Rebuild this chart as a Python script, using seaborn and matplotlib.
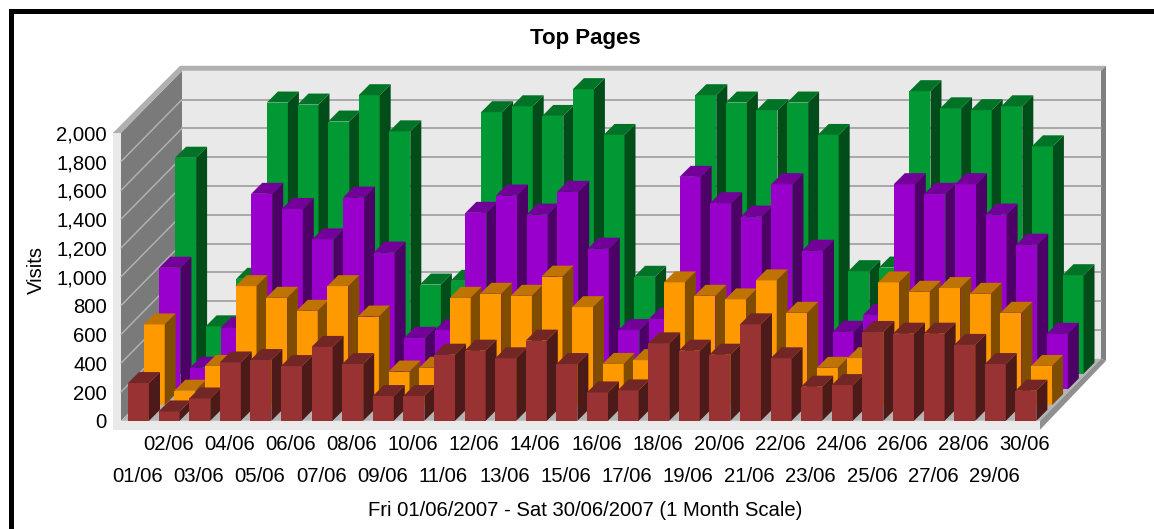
import matplotlib
matplotlib.use("Agg")
from matplotlib.patches import Polygon, Rectangle
from matplotlib.transforms import ScaledTranslation
import matplotlib.pyplot as plt
import numpy as np
import seaborn as sns

sns.set_theme(style="white")
plt.rcParams['font.family'] = ['Liberation Sans', 'DejaVu Sans']

days = np.arange(1, 31)
day_labels = [f"{d:02d}/06" for d in days]
y_ticks = [0, 200, 400, 600, 800, 1000, 1200, 1400, 1600, 1800, 2000]

# front row to back row
brown = [262, 65, 155, 405, 422, 380, 513, 394, 172, 172,
         459, 487, 434, 557, 394, 197, 211, 538, 487, 459,
         670, 434, 237, 248, 617, 605, 605, 527, 394, 209]
orange = [560, 100, 272, 826, 745, 655, 826, 615, 233, 259,
          745, 773, 759, 892, 680, 286, 312, 852, 759, 734,
          866, 641, 259, 326, 852, 787, 813, 773, 641, 272]
purple = [845, 150, 426, 1358, 1253, 1042, 1332, 950, 358, 412,
          1226, 1346, 1214, 1372, 977, 412, 490, 1476, 1293, 1200,
          1425, 963, 400, 518, 1425, 1358, 1425, 1214, 1005, 386]
green = [1500, 329, 659, 1883, 1869, 1751, 1934, 1683, 619, 645,
         1816, 1857, 1790, 1976, 1658, 673, 600, 1934, 1883, 1830,
         1883, 1658, 712, 737, 1962, 1843, 1830, 1857, 1579, 684]

rows = [(green, "#009933", 3), (purple, "#9900CC", 2), (orange, "#FF9900", 1), (brown, "#993333", 0)]

W, H = 1154, 529
PX_X = 1 / 30.6    # days per pixel
PX_Y = 1 / 0.144   # visits per pixel
ROW_X = 15.7 * PX_X
ROW_Y = 15.7 * PX_Y
BOX_X = 11 * PX_X
BOX_Y = 11 * PX_Y
DEPTH_X = 61 * PX_X
DEPTH_Y = 62 * PX_Y
X0 = 1 - 17.5 * PX_X
X1 = 30 + 14.1 * PX_X
YMAX = 2000


def shade(color, k):
    r, g, b = matplotlib.colors.to_rgb(color)
    return (r * k, g * k, b * k)


def wall(ax, pts, color, z=1):
    ax.add_patch(Polygon(pts, closed=True, facecolor=color, edgecolor="none", zorder=z, clip_on=False))


fig = plt.figure(figsize=(W / 100, H / 100), dpi=100)
ax = fig.add_axes([121 / W, (H - 420.8) / H, 919 / W, 288 / H])

# back wall, left wall, floor and their edges
band = 5
wall(ax, [(X0 + DEPTH_X, DEPTH_Y), (X1 + DEPTH_X, DEPTH_Y), (X1 + DEPTH_X, YMAX + DEPTH_Y), (X0 + DEPTH_X, YMAX + DEPTH_Y)], "#E9E9E9")
wall(ax, [(X0, 0), (X0 + DEPTH_X, DEPTH_Y), (X0 + DEPTH_X, YMAX + DEPTH_Y), (X0, YMAX)], "#7A7A7A")
wall(ax, [(X0, 0), (X1, 0), (X1 + DEPTH_X, DEPTH_Y), (X0 + DEPTH_X, DEPTH_Y)], "#B4B4B4")
wall(ax, [(X0 - 8 * PX_X, YMAX), (X0, YMAX), (X0 + DEPTH_X, YMAX + DEPTH_Y), (X1 + DEPTH_X, YMAX + DEPTH_Y),
          (X1 + DEPTH_X + band * PX_X, YMAX + DEPTH_Y + band * PX_Y), (X0 + DEPTH_X - 2 * PX_X, YMAX + DEPTH_Y + band * PX_Y)], "#B0B0B0", 2)
wall(ax, [(X1 + DEPTH_X, DEPTH_Y), (X1 + DEPTH_X + band * PX_X, DEPTH_Y - 2 * PX_Y),
          (X1 + DEPTH_X + band * PX_X, YMAX + DEPTH_Y + band * PX_Y), (X1 + DEPTH_X, YMAX + DEPTH_Y)], "#808080", 2)
wall(ax, [(X1, 0), (X1, -9 * PX_Y), (X1 + DEPTH_X + band * PX_X, DEPTH_Y - 2 * PX_Y), (X1 + DEPTH_X, DEPTH_Y)], "#909090", 2)
wall(ax, [(X0 - 8 * PX_X, YMAX), (X0, YMAX), (X0, 0), (X1, 0), (X1, -9 * PX_Y), (X0 - 8 * PX_X, -9 * PX_Y)], "#E9E9E9", 2)

for t in y_ticks[1:-1]:
    ax.plot([X0 + DEPTH_X, X1 + DEPTH_X], [t + DEPTH_Y, t + DEPTH_Y], color="#A3A3A3", lw=1.3, zorder=3, clip_on=False)
    ax.plot([X0, X0 + DEPTH_X], [t, t + DEPTH_Y], color="#B0B0B0", lw=1.1, zorder=3, clip_on=False)

for values, color, row in rows:
    sns.barplot(x=days + row * ROW_X, y=values, color=color, saturation=1, width=21 * PX_X,
                native_scale=True, errorbar=None, bottom=row * ROW_Y, linewidth=0, ax=ax)
    base = 10 + (3 - row) * 10
    for k, bar in enumerate(ax.containers[-1]):
        x, w = bar.get_x(), bar.get_width()
        y0, y1 = bar.get_y(), bar.get_y() + bar.get_height()
        z = base + k * 0.01
        bar.set_zorder(z)
        bar.set_clip_on(False)
        side = [(x + w, y0), (x + w + BOX_X, y0 + BOX_Y), (x + w + BOX_X, y1 + BOX_Y), (x + w, y1)]
        top = [(x, y1), (x + BOX_X, y1 + BOX_Y), (x + w + BOX_X, y1 + BOX_Y), (x + w, y1)]
        wall(ax, side, shade(color, 0.5), z)
        wall(ax, top, shade(color, 0.75), z)

ax.set_xlim(X0, X1)
ax.set_ylim(0, YMAX)
sns.despine(ax=ax, left=True, bottom=True)
ax.set_xlabel("")
ax.set_ylabel("")

ax.set_yticks(y_ticks)
ax.set_yticklabels([f"{t:,}" for t in y_ticks], fontsize=14.6, color="black", va="center_baseline")
ax.set_xticks(days - 2.5 * PX_X)
ax.set_xticklabels(day_labels, fontsize=14.6, color="black")
ax.tick_params(axis="y", left=True, length=5.8, width=1.2, color="#A0A0A0", pad=4.3)
ax.tick_params(axis="x", bottom=True, length=6.5, width=1.2, color="#A0A0A0")
for d, tick in zip(days, ax.xaxis.get_major_ticks()):
    tick.set_pad(3.5 if d % 2 == 0 else 26.5)
    tick.tick1line.set_zorder(5)
    lab = tick.label1
    lab.set_transform(lab.get_transform() + ScaledTranslation(0.015, 0, fig.dpi_scale_trans))

fig.text(585 / W, 1 - 36 / H, "Top Pages", ha="center", va="center_baseline", fontsize=16, fontweight="bold", color="black")
fig.text(585 / W, 1 - 511 / H, "Fri 01/06/2007 - Sat 30/06/2007 (1 Month Scale)", ha="center", va="center", fontsize=14.6, color="black")
fig.text(36 / W, 1 - 270 / H, "Visits", ha="center", va="center", rotation=90, fontsize=14.6, color="black")

# black frame of the original screenshot
fig.add_artist(Rectangle((9 / W, 1 - 14 / H), 1 - 9 / W, 5 / H, transform=fig.transFigure, color="black", lw=0))
fig.add_artist(Rectangle((9 / W, 0), 5 / W, 1 - 9 / H, transform=fig.transFigure, color="black", lw=0))

fig.savefig("out.png", dpi=100)
